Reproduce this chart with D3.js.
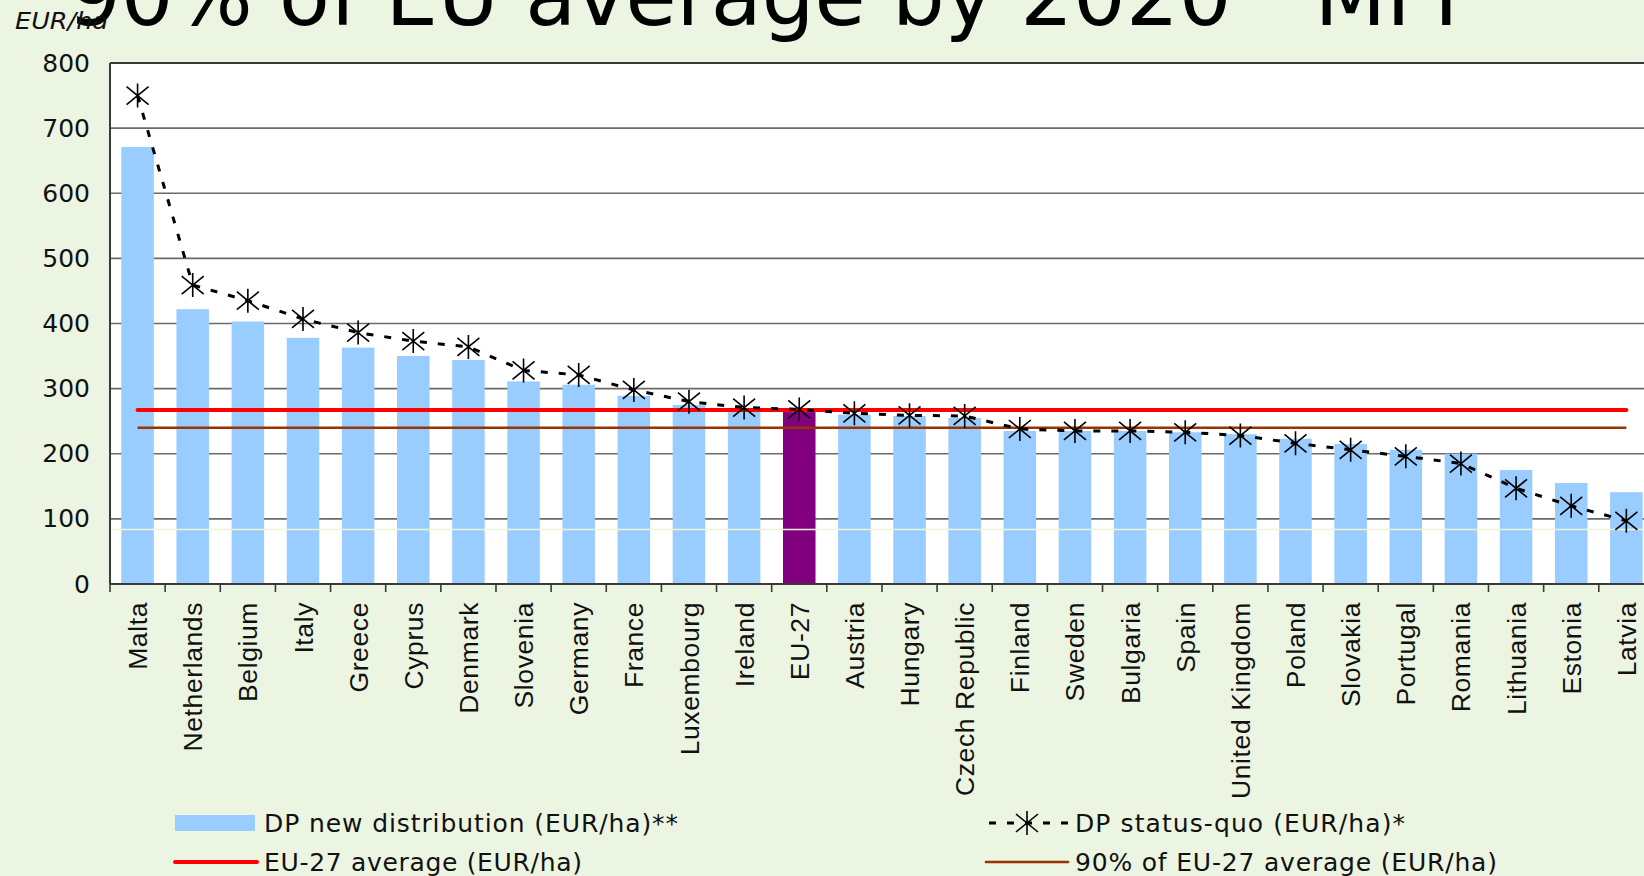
<!DOCTYPE html>
<html>
<head>
<meta charset="utf-8">
<script src="https://cdn.jsdelivr.net/npm/d3@7"></script>
<style>
  body { margin: 0; background: #ecf5e1; }
  svg { display: block; }
</style>
</head>
<body>
<svg id="chart" width="1644" height="876"></svg>
<script>
// ---- data (EUR/ha) ----
const countries = ["Malta", "Netherlands", "Belgium", "Italy", "Greece", "Cyprus", "Denmark",
  "Slovenia", "Germany", "France", "Luxembourg", "Ireland", "EU-27", "Austria", "Hungary",
  "Czech Republic", "Finland", "Sweden", "Bulgaria", "Spain", "United Kingdom", "Poland",
  "Slovakia", "Portugal", "Romania", "Lithuania", "Estonia", "Latvia"];
const newDistribution = [671, 422, 403, 378, 363, 350, 344, 311, 306, 289, 275, 264, 264, 260,
  258, 255, 235, 235, 235, 233, 230, 223, 215, 206, 200, 175, 155, 141];
const statusQuo = [750, 459, 435, 407, 386, 373, 364, 328, 321, 298, 280, 271, 268, 262,
  259, 258, 238, 235, 235, 233, 228, 216, 206, 196, 185, 147, 120, 97];
const euAverage = 267;
const euAverage90 = 240;
const yTicks = [0, 100, 200, 300, 400, 500, 600, 700, 800];
const highlight = "EU-27";
const legendLabels = ["DP new distribution (EUR/ha)**", "DP status-quo (EUR/ha)*",
  "EU-27 average (EUR/ha)", "90% of EU-27 average (EUR/ha)"];
const titleParts = ["90% of EU average by 2020 ", "-", " MFF"];
const unitLabel = "EUR/ha";

// ---- layout ----
const width = 1644, height = 876;
const plotLeft = 110, plotTop = 63, plotBottom = 584;
const plotRight = plotLeft + countries.length * 55.14;   // plot runs past the picture's edge

const svg = d3.select("#chart");

const xScale = d3.scaleBand()
  .domain(countries)
  .range([plotLeft, plotRight])
  .paddingInner(0.41)
  .paddingOuter(0.205);
const step = xScale.step();
const bw = xScale.bandwidth();
const cx = (d) => xScale(d) + bw / 2;

const yScale = d3.scaleLinear()
  .domain([0, 800])
  .range([plotBottom, plotTop]);

// plot area
svg.append("rect")
  .attr("x", plotLeft).attr("y", plotTop)
  .attr("width", plotRight - plotLeft).attr("height", plotBottom - plotTop)
  .attr("fill", "#ffffff");

// gridlines
svg.append("g")
  .selectAll("line")
  .data(yTicks.filter((v) => v > 0 && v < 800))
  .join("line")
  .attr("x1", plotLeft).attr("x2", plotRight)
  .attr("y1", (d) => yScale(d)).attr("y2", (d) => yScale(d))
  .attr("stroke", "#6a6a6a")
  .attr("stroke-width", 1.6);

svg.append("line")
  .attr("x1", plotLeft).attr("x2", plotRight)
  .attr("y1", yScale(800)).attr("y2", yScale(800))
  .attr("stroke", "#3a3a3a")
  .attr("stroke-width", 2);

// bars
svg.append("g")
  .selectAll("rect")
  .data(countries)
  .join("rect")
  .attr("x", (d) => xScale(d))
  .attr("width", bw)
  .attr("y", (d, i) => yScale(newDistribution[i]))
  .attr("height", (d, i) => yScale(0) - yScale(newDistribution[i]))
  .attr("fill", (d) => d === highlight ? "#800080" : "#99ccff");

// faint slide line crossing the plot
svg.append("line")
  .attr("x1", plotLeft).attr("x2", width)
  .attr("y1", yScale(83.5)).attr("y2", yScale(83.5))
  .attr("stroke", "#eef3d6")
  .attr("stroke-width", 1.5);

// average lines
const first = cx(countries[0]), last = cx(countries[countries.length - 1]);
svg.append("line")
  .attr("x1", first).attr("x2", last)
  .attr("y1", yScale(euAverage)).attr("y2", yScale(euAverage))
  .attr("stroke", "#ff0000").attr("stroke-width", 4)
  .attr("stroke-linecap", "round");
svg.append("line")
  .attr("x1", first).attr("x2", last)
  .attr("y1", yScale(euAverage90)).attr("y2", yScale(euAverage90))
  .attr("stroke", "#993300").attr("stroke-width", 2.6);

// status-quo line + asterisk markers
const line = d3.line()
  .x((d, i) => cx(countries[i]))
  .y((d) => yScale(d));
svg.append("path")
  .attr("d", line(statusQuo))
  .attr("fill", "none")
  .attr("stroke", "#000")
  .attr("stroke-width", 3)
  .attr("stroke-dasharray", "7,11");

const star = "M0,-12V12M-11,-9L11,9M-11,9L11,-9";
svg.append("g")
  .selectAll("path")
  .data(statusQuo)
  .join("path")
  .attr("transform", (d, i) => `translate(${cx(countries[i])},${yScale(d)})`)
  .attr("d", star)
  .attr("fill", "none")
  .attr("stroke", "#000")
  .attr("stroke-width", 1.6);

// axes
svg.append("line")
  .attr("x1", plotLeft).attr("x2", plotLeft)
  .attr("y1", plotTop).attr("y2", plotBottom)
  .attr("stroke", "#3a3a3a").attr("stroke-width", 2);
svg.append("line")
  .attr("x1", plotLeft).attr("x2", plotRight)
  .attr("y1", plotBottom).attr("y2", plotBottom)
  .attr("stroke", "#3a3a3a").attr("stroke-width", 2);

// x ticks sit on the band boundaries
svg.append("g")
  .selectAll("line")
  .data(d3.range(countries.length + 1))
  .join("line")
  .attr("x1", (k) => plotLeft + k * step).attr("x2", (k) => plotLeft + k * step)
  .attr("y1", plotBottom).attr("y2", plotBottom + 8)
  .attr("stroke", "#3a3a3a").attr("stroke-width", 1.6);

// y axis labels
const yAxis = d3.axisLeft(yScale).tickValues(yTicks).tickSize(0).tickPadding(20);
const yg = svg.append("g")
  .attr("transform", `translate(${plotLeft},0)`)
  .call(yAxis);
yg.select(".domain").remove();
yg.selectAll("text")
  .attr("font-family", "DejaVu Sans, Verdana, sans-serif")
  .attr("font-size", 25)
  .attr("fill", "#111");

// x labels
svg.append("g")
  .selectAll("text")
  .data(countries)
  .join("text")
  .attr("transform", (d) => `translate(${cx(d)},${plotBottom + 18}) rotate(-90)`)
  .attr("dy", "0.36em")
  .attr("text-anchor", "end")
  .attr("font-family", "Liberation Sans, Arial, sans-serif")
  .attr("font-size", 26.5)
  .attr("letter-spacing", 0.6)
  .attr("fill", "#111")
  .text((d) => d);

// title (mostly cut off by the top edge; the dash sits above the picture)
const title = svg.append("text")
  .attr("x", 68).attr("y", 25)
  .attr("font-family", "DejaVu Sans, Verdana, sans-serif")
  .attr("font-size", 100)
  .attr("fill", "#000");
title.append("tspan").text(titleParts[0]);
title.append("tspan").attr("dy", -15).text(titleParts[1]);
title.append("tspan").attr("dy", 15).text(titleParts[2]);
const tl = title.node().getComputedTextLength();
title.attr("font-size", 100 * 1414 / tl);

// unit label
svg.append("text")
  .attr("x", 15).attr("y", 29)
  .attr("font-family", "DejaVu Sans, Verdana, sans-serif")
  .attr("font-style", "italic")
  .attr("font-size", 23)
  .attr("textLength", 93)
  .attr("lengthAdjust", "spacingAndGlyphs")
  .attr("fill", "#111")
  .text(unitLabel);

// legend
const legendFont = (sel) => sel
  .attr("font-family", "DejaVu Sans, Verdana, sans-serif")
  .attr("font-size", 25)
  .attr("fill", "#111")
  .attr("dominant-baseline", "central");

const row1 = 823, row2 = 862;
const legendItems = [
  { label: legendLabels[0], x: 175, y: row1, w: 414, kind: "bar" },
  { label: legendLabels[1], x: 986, y: row1, w: 330, kind: "dash" },
  { label: legendLabels[2], x: 175, y: row2, w: 318, kind: "red" },
  { label: legendLabels[3], x: 986, y: row2, w: 422, kind: "brown" }
];
const lg = svg.append("g");
legendItems.forEach((it) => {
  const g = lg.append("g").attr("transform", `translate(${it.x},${it.y})`);
  if (it.kind === "bar") {
    g.append("rect").attr("x", 0).attr("y", -8).attr("width", 80).attr("height", 16)
      .attr("fill", "#99ccff");
  } else if (it.kind === "dash") {
    g.append("line").attr("x1", 3).attr("x2", 83).attr("y1", 0).attr("y2", 0)
      .attr("stroke", "#000").attr("stroke-width", 3).attr("stroke-dasharray", "7,11");
    g.append("path").attr("transform", "translate(41,0)").attr("d", star)
      .attr("fill", "none").attr("stroke", "#000").attr("stroke-width", 1.6);
  } else {
    g.append("line").attr("x1", 0).attr("x2", 82).attr("y1", 0).attr("y2", 0)
      .attr("stroke", it.kind === "red" ? "#ff0000" : "#993300")
      .attr("stroke-width", it.kind === "red" ? 4 : 2.6)
      .attr("stroke-linecap", "round");
  }
  g.append("text")
    .attr("x", 89).attr("y", 0)
    .attr("textLength", it.w)
    .attr("lengthAdjust", "spacing")
    .call(legendFont)
    .text(it.label);
});
</script>
</body>
</html>
